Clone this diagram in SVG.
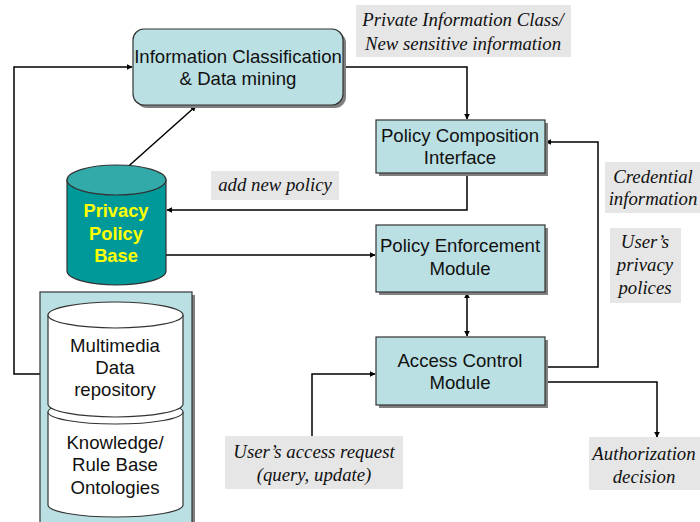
<svg xmlns="http://www.w3.org/2000/svg" width="700" height="522" viewBox="0 0 700 522">
<style>
.box{fill:#bbe0e3;stroke:#333;stroke-width:1.2}
.shadow{fill:#808080}
.t{font-family:"Liberation Sans",Arial,sans-serif;font-size:18.6px;fill:#111;text-anchor:middle}
.y{font-family:"Liberation Sans",Arial,sans-serif;font-size:18.3px;font-weight:bold;fill:#ffff00;text-anchor:middle}
.lbl{fill:#e6e6e6}
.it{font-family:"Liberation Serif","Times New Roman",serif;font-style:italic;font-size:18.8px;fill:#111;text-anchor:middle}
.c{fill:none;stroke:#000;stroke-width:1.5}
.cyl{fill:#fff;stroke:#333;stroke-width:1.2}
</style>
<defs>
<marker id="ah" viewBox="0 0 10 10" refX="9" refY="5" markerWidth="6" markerHeight="6" markerUnits="userSpaceOnUse" orient="auto-start-reverse">
<path d="M0,0 L10,5 L0,10 z" fill="#000"/>
</marker>
</defs>

<g id="label-private">
<rect class="lbl" x="356" y="5" width="215" height="52"/>
<text class="it" x="463" y="26">Private Information Class/</text>
<text class="it" x="463" y="50">New sensitive information</text>
</g>
<g id="label-addpolicy">
<rect class="lbl" x="211" y="171" width="128" height="29"/>
<text class="it" x="275" y="191">add new policy</text>
</g>
<g id="label-credential">
<rect class="lbl" x="605" y="162" width="95" height="51"/>
<text class="it" x="653" y="183">Credential</text>
<text class="it" x="653" y="205">information</text>
</g>
<g id="label-privacy">
<rect class="lbl" x="610" y="228" width="71" height="75"/>
<text class="it" x="645" y="248">User’s</text>
<text class="it" x="645" y="271">privacy</text>
<text class="it" x="645" y="294">polices</text>
</g>
<g id="label-request">
<rect class="lbl" x="225" y="436" width="178" height="53"/>
<text class="it" x="314" y="458">User’s access request</text>
<text class="it" x="314" y="481">(query, update)</text>
</g>
<g id="label-authorization">
<rect class="lbl" x="589" y="437" width="111" height="53"/>
<text class="it" x="644" y="460">Authorization</text>
<text class="it" x="644" y="483">decision</text>
</g>

<g id="connectors">
<polyline class="c" points="40,374 14,374 14,67 132,67" marker-end="url(#ah)"/>
<line class="c" x1="113" y1="180" x2="196" y2="106" marker-end="url(#ah)"/>
<polyline class="c" points="343,67 467,67 467,119" marker-end="url(#ah)"/>
<polyline class="c" points="467,173 467,210 167,210" marker-end="url(#ah)"/>
<line class="c" x1="166" y1="255" x2="375" y2="255" marker-end="url(#ah)"/>
<line class="c" x1="467" y1="293" x2="467" y2="336" marker-start="url(#ah)" marker-end="url(#ah)"/>
<polyline class="c" points="545,367 598,367 598,142 546,142" marker-end="url(#ah)"/>
<polyline class="c" points="545,382 657,382 657,437" marker-end="url(#ah)"/>
<polyline class="c" points="312,436 312,374 375,374" marker-end="url(#ah)"/>
</g>

<g id="info-classification">
<rect class="shadow" x="136" y="32" width="210" height="76" rx="11"/>
<rect class="box" x="133" y="29" width="210" height="76" rx="11"/>
<text class="t" x="238" y="63">Information Classification</text>
<text class="t" x="238" y="85">&amp; Data mining</text>
</g>

<g id="policy-composition">
<rect class="shadow" x="379" y="123" width="169" height="53"/>
<rect class="box" x="376" y="120" width="169" height="53"/>
<text class="t" x="460" y="142">Policy Composition</text>
<text class="t" x="460" y="164">Interface</text>
</g>

<g id="policy-enforcement">
<rect class="shadow" x="379" y="228" width="169" height="67"/>
<rect class="box" x="376" y="225" width="169" height="67"/>
<text class="t" x="460" y="252">Policy Enforcement</text>
<text class="t" x="460" y="275">Module</text>
</g>

<g id="access-control">
<rect class="shadow" x="379" y="340" width="169" height="68"/>
<rect class="box" x="376" y="337" width="169" height="68"/>
<text class="t" x="460" y="367">Access Control</text>
<text class="t" x="460" y="389">Module</text>
</g>

<g id="privacy-policy-base">
<path d="M67,180 L67,271 A49.5,14 0 0 0 166,271 L166,180 Z" fill="#009999" stroke="#333" stroke-width="1.2"/>
<ellipse cx="116.5" cy="180" rx="49.5" ry="15" fill="#33aaaa" stroke="#333" stroke-width="1.2"/>
<text class="y" x="116" y="217">Privacy</text>
<text class="y" x="116" y="240">Policy</text>
<text class="y" x="116" y="262">Base</text>
</g>

<g id="storage">
<rect class="shadow" x="43" y="295" width="152" height="230"/>
<rect class="box" x="40" y="292" width="152" height="232"/>
<g id="knowledge-base">
<path class="cyl" d="M48,412 L48,505 A67.5,12 0 0 0 183,505 L183,412"/>
<ellipse class="cyl" cx="115.5" cy="412" rx="67.5" ry="12"/>
<text class="t" x="115" y="449">Knowledge/</text>
<text class="t" x="115" y="471">Rule Base</text>
<text class="t" x="115" y="494">Ontologies</text>
</g>
<g id="multimedia-repository">
<path class="cyl" d="M48,315 L48,404 A67.5,13 0 0 0 183,404 L183,315"/>
<ellipse class="cyl" cx="115.5" cy="315" rx="67.5" ry="13"/>
<text class="t" x="115" y="352">Multimedia</text>
<text class="t" x="115" y="374">Data</text>
<text class="t" x="115" y="396">repository</text>
</g>
</g>
</svg>
